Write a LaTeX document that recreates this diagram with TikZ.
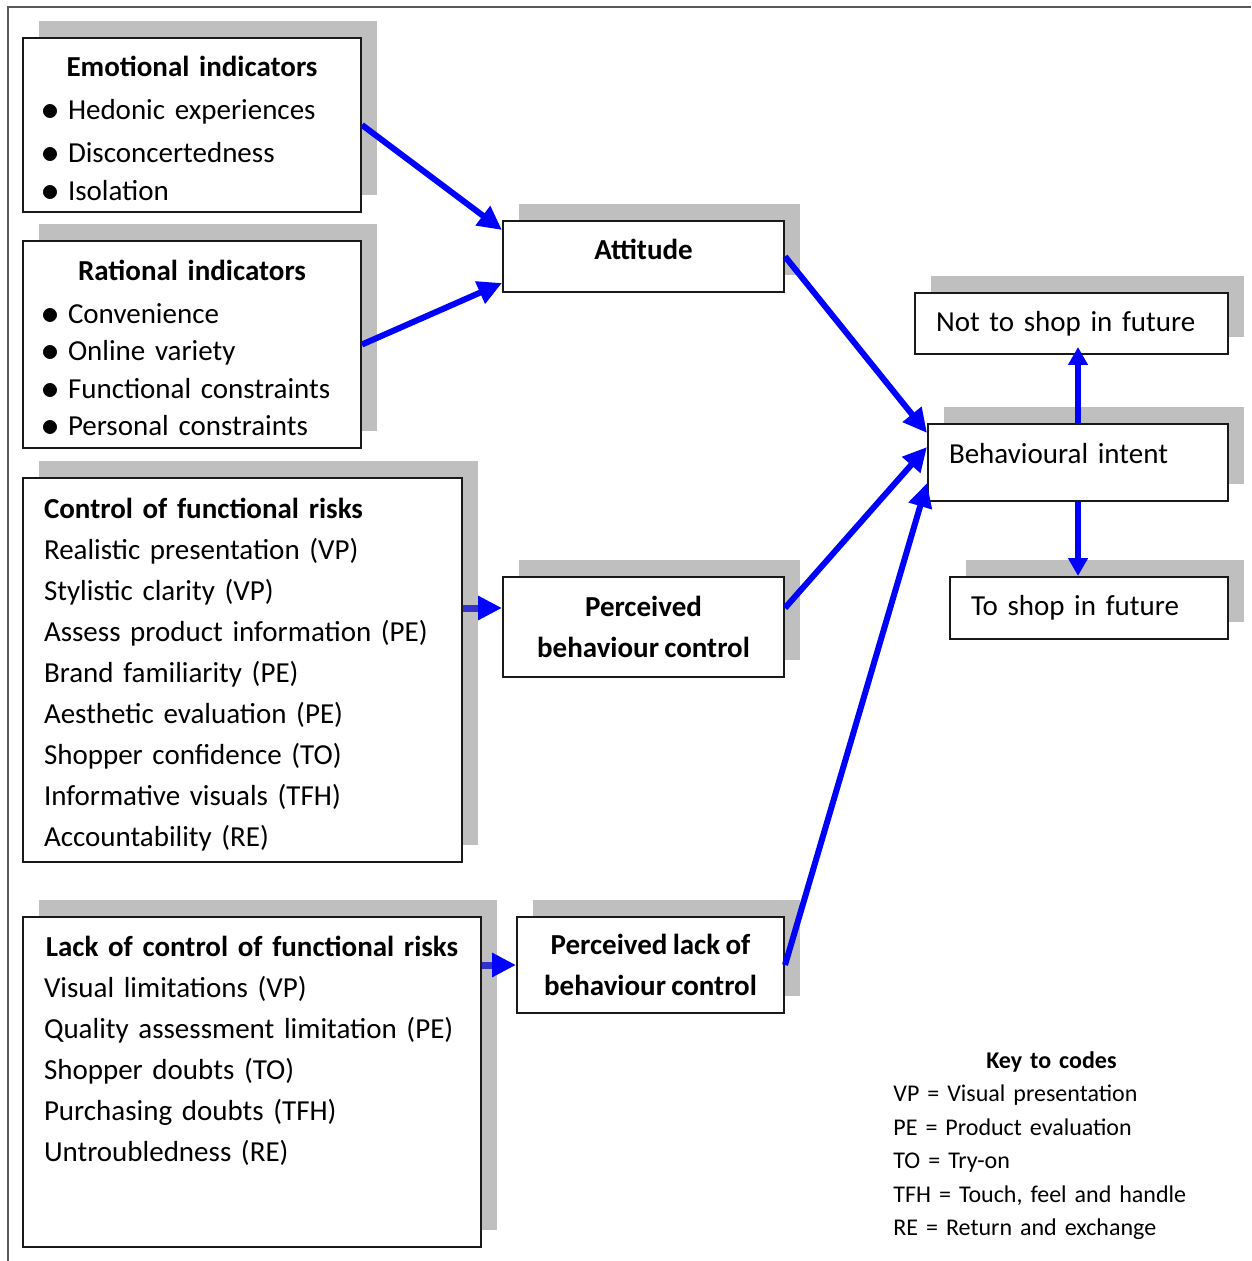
\documentclass[tikz,border=0pt]{standalone}
\usepackage{fontspec}
\setmainfont{Carlito}[WordSpace=0.8]
\usetikzlibrary{arrows.meta,shadows}
\newcommand{\bul}{\makebox[12pt][l]{\hspace{-1.5pt}\raisebox{-0.4pt}{\scalebox{1.25}{$\bullet$}}}}

\begin{document}
\begin{tikzpicture}[x=0.5pt,y=-0.5pt,
  box/.style={draw=black!90,line width=1pt,fill=white,anchor=north west,
              inner xsep=10.5pt,inner ysep=0pt,
              general shadow={fill=black!25,shadow xshift=8pt,shadow yshift=8.5pt},
              font=\fontsize{14.5}{20.5}\selectfont},
  lst/.style={box,align=left},
  hd/.style={box,align=center,font=\fontsize{14.5}{20.5}\selectfont\bfseries},
  key/.style={anchor=north west,inner sep=0pt,text width=158pt,align=left,
              font=\fontsize{12}{16.75}\selectfont},
  flow/.style={-{Triangle[length=12pt,width=11.5pt]},blue,line width=3pt},
  upflow/.style={-{Triangle[length=9pt,width=9.5pt]},blue,line width=3pt},
  stub/.style={-{Triangle[length=12pt,width=11.5pt,color=blue]},draw=blue!60!gray,line width=3.5pt}]
  \useasboundingbox (0,0) rectangle (1251,1261);
  % page frame
  \draw[black!65,line width=0.8pt] (8,1261) -- (8,7) -- (1251,7);

  % indicator boxes
  \node[lst,text width=148pt,minimum height=87pt,font=\fontsize{14.5}{18.75}\selectfont] (emo) at (22,37)
    {{\centering\bfseries\rule{0pt}{14pt}Emotional indicators\par}\vspace{2.75pt}
     \bul Hedonic experiences\\[2.75pt]
     \bul Disconcertedness\\
     \bul Isolation};
  \node[lst,text width=148pt,minimum height=103.5pt,font=\fontsize{14.5}{18.75}\selectfont] (rat) at (22,240)
    {{\centering\bfseries\rule{0pt}{14pt}Rational indicators\par}\vspace{2.75pt}
     \bul Convenience\\
     \bul Online variety\\
     \bul Functional constraints\\
     \bul Personal constraints};
  \node[lst,text width=198.5pt,minimum height=192pt] (ctrl) at (22,477)
    {\rule{0pt}{15pt}\textbf{Control of functional risks}\\
     Realistic presentation (VP)\\
     Stylistic clarity (VP)\\
     Assess product information (PE)\\
     Brand familiarity (PE)\\
     Aesthetic evaluation (PE)\\
     Shopper confidence (TO)\\
     Informative visuals (TFH)\\
     Accountability (RE)};
  \node[lst,text width=208pt,minimum height=165pt] (lack) at (22,916)
    {{\centering\bfseries Lack of control of functional risks\par}
     Visual limitations (VP)\\
     Quality assessment limitation (PE)\\
     Shopper doubts (TO)\\
     Purchasing doubts (TFH)\\
     Untroubledness (RE)\rule[-33.5pt]{0pt}{33.5pt}};

  % constructs
  \node[hd,minimum width=140.5pt,minimum height=35.5pt,text depth=7pt] (att) at (502,220) {Attitude};
  \node[hd,minimum width=140.5pt,minimum height=50pt] (pbc) at (502,576) {Perceived\\behaviour control};
  \node[hd,minimum width=133.5pt,minimum height=48pt] (plbc) at (516,916) {Perceived lack of\\behaviour control};

  % intent and outcomes
  \node[lst,text width=135.5pt,minimum height=30.5pt] (nots) at (914,292) {Not to shop in future};
  \node[lst,text width=129pt,minimum height=38.5pt,text depth=9pt] (bi) at (927,423) {Behavioural intent};
  \node[lst,text width=118pt,minimum height=31pt] (tos) at (949,576) {To shop in future};

  \node[key] (codes) at (893,1051)
    {{\centering\bfseries Key to codes\par}
     VP = Visual presentation\\
     PE = Product evaluation\\
     TO = Try-on\\
     TFH = Touch, feel and handle\\
     RE = Return and exchange};

  \draw[flow] (emo.east) -- ([yshift=-5pt]att.north west);
  \draw[flow] (rat.east) -- ([yshift=5pt]att.south west);
  \draw[flow] (att.east) -- ([yshift=-5pt]bi.north west);
  \draw[flow] ([yshift=9.5pt]pbc.east) -- ([yshift=-12pt]bi.north west);
  \draw[flow] (plbc.east) -- ([yshift=-30pt]bi.north west);
  \draw[upflow] (bi.north) -- ([yshift=4pt]bi.north |- nots.south);
  \draw[upflow] (bi.south) -- (bi.south |- tos.north);
  \draw[stub] ([yshift=9.5pt]pbc.west -| ctrl.east) -- ([yshift=9.5pt]pbc.west);
  \draw[stub] (plbc.west -| lack.east) -- (plbc.west);
\end{tikzpicture}
\end{document}
